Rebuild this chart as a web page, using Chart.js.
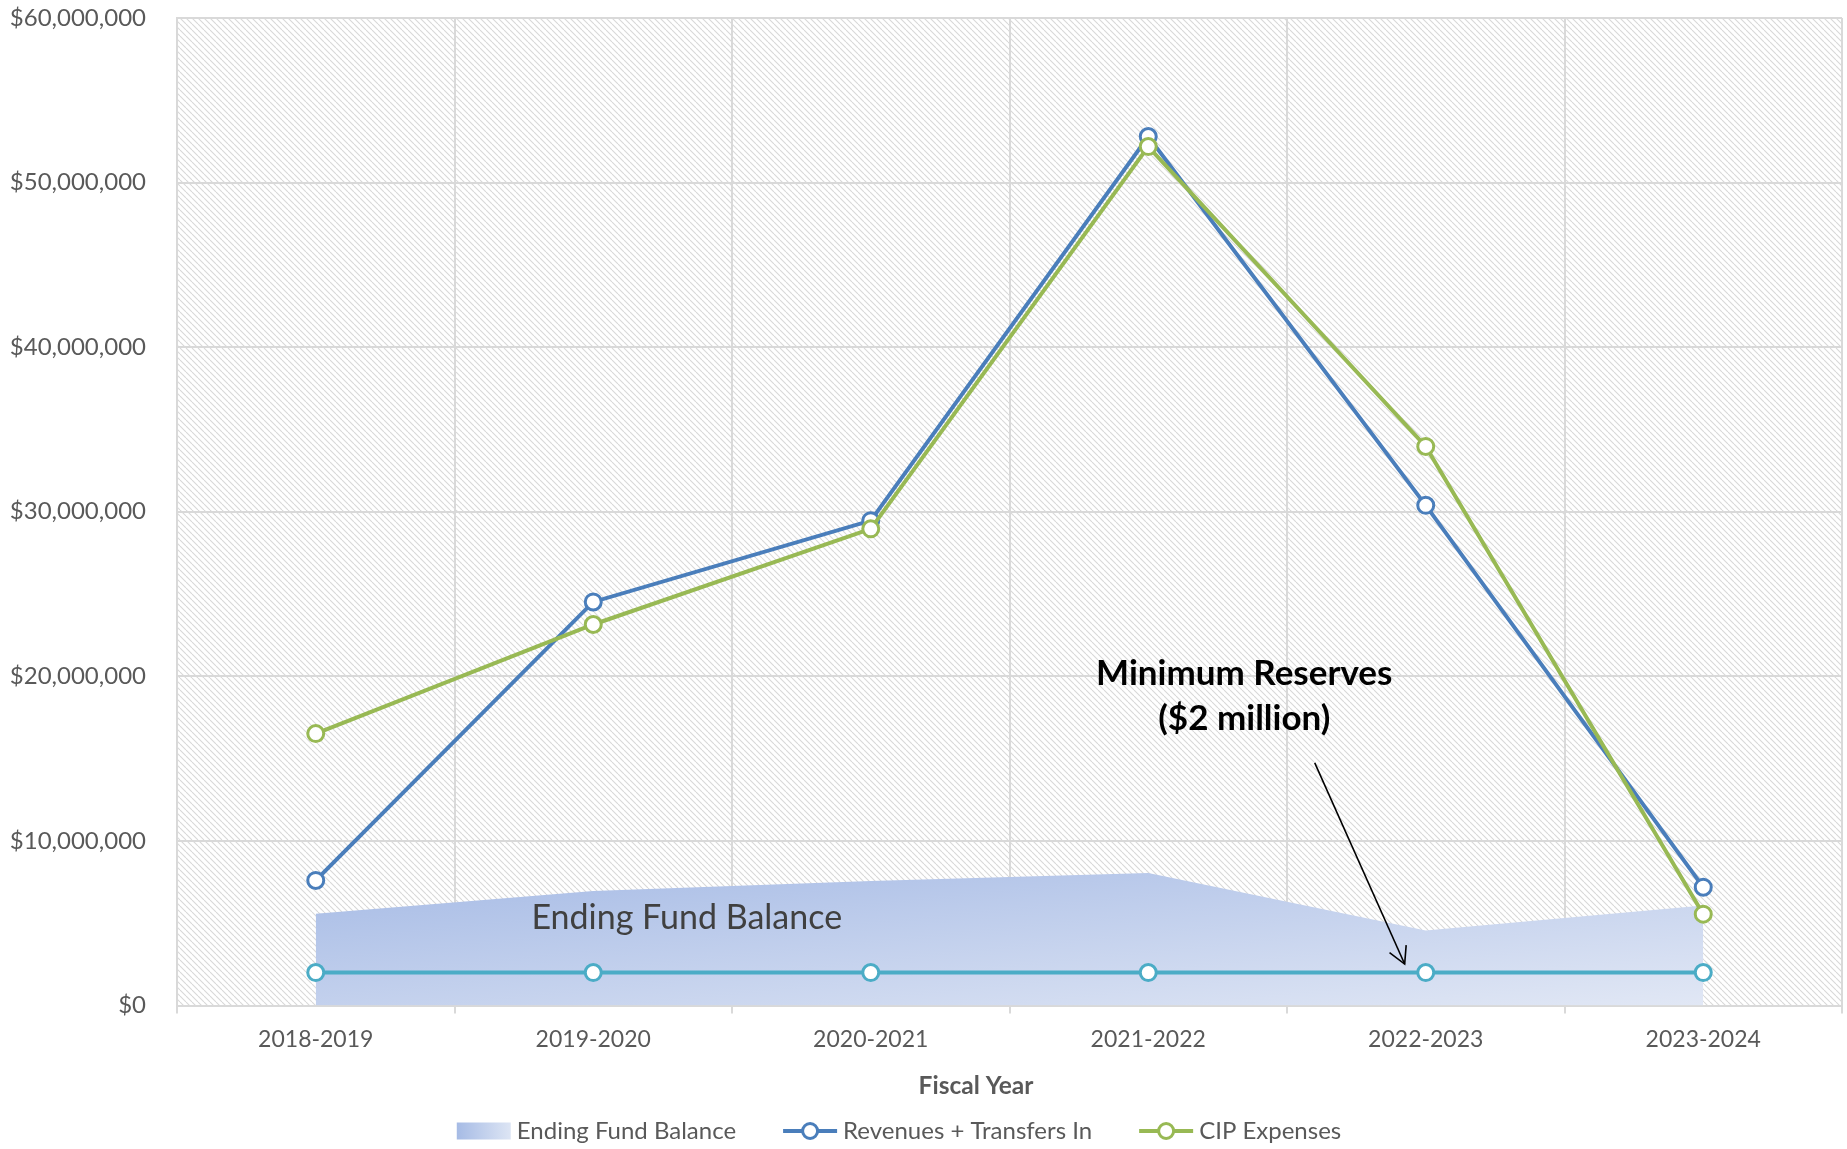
<!DOCTYPE html>
<html>
<head>
<meta charset="utf-8">
<script src="https://cdn.jsdelivr.net/npm/chart.js@4.4.1/dist/chart.umd.min.js"></script>
<style>
html,body{margin:0;padding:0;background:#fff;overflow:hidden}
#wrap{width:1847px;height:1149px;position:relative}
</style>
</head>
<body>
<div id="wrap"><canvas id="c" width="1847" height="1149"></canvas></div>
<script>
// ---------- data ----------
const categories = ['2018-2019', '2019-2020', '2020-2021', '2021-2022', '2022-2023', '2023-2024'];
const endingFundBalance = [5570000, 6950000, 7560000, 8050000, 4560000, 6080000];
const revenuesTransfersIn = [7600000, 24520000, 29460000, 52800000, 30390000, 7190000];
const cipExpenses = [16520000, 23150000, 28960000, 52190000, 33970000, 5550000];
const minimumReserves = [2000000, 2000000, 2000000, 2000000, 2000000, 2000000];
const yTickValues = [0, 10000000, 20000000, 30000000, 40000000, 50000000, 60000000];
const yTickLabels = ['$0', '$10,000,000', '$20,000,000', '$30,000,000', '$40,000,000', '$50,000,000', '$60,000,000'];
const seriesNames = ['Ending Fund Balance', 'Revenues + Transfers In', 'CIP Expenses', 'Minimum Reserves'];
const xAxisTitle = 'Fiscal Year';
const areaLabel = 'Ending Fund Balance';
const annotationLines = ['Minimum Reserves', '($2 million)'];

// ---------- styles ----------
const FONT = 'Lato, "Open Sans", sans-serif';
const BLUE = '#4a7ebb';
const GREEN = '#98b954';
const TEAL = '#4bacc6';
const GRID = '#d9d9d9';
const TEXT = '#595959';

const hatch = (() => {
  const c = document.createElement('canvas');
  c.width = 6; c.height = 6;
  const x = c.getContext('2d');
  x.fillStyle = '#ffffff';
  x.fillRect(0, 0, 6, 6);
  x.strokeStyle = '#d8d8d8';
  x.lineWidth = 1.1;
  for (const k of [-6, 0, 6]) {
    x.beginPath(); x.moveTo(k, 0); x.lineTo(k + 6, 6); x.stroke();
  }
  return c;
})();

function areaGradient(context) {
  const chart = context.chart;
  const {ctx, chartArea, scales} = chart;
  if (!chartArea) return '#b8c9ea';
  const sx = scales.x.getPixelForValue(0);
  const sy = scales.y.getPixelForValue(8500000);
  const h = scales.y.getPixelForValue(0) - sy;
  const g = ctx.createLinearGradient(sx, sy, sx + 0.2 * h, sy + 2 * h);
  g.addColorStop(0, '#a5bae5');
  g.addColorStop(1, '#e2e8f5');
  return g;
}

const backgroundPlugin = {
  id: 'hatchBackground',
  beforeDraw(chart) {
    const {ctx, chartArea: a} = chart;
    ctx.save();
    ctx.fillStyle = ctx.createPattern(hatch, 'repeat');
    ctx.fillRect(a.left, a.top, a.right - a.left, a.bottom - a.top);
    ctx.restore();
  }
};

const annotationPlugin = {
  id: 'annotations',
  afterDatasetsDraw(chart) {
    const {ctx, scales: {x, y}} = chart;
    ctx.save();
    // label inside area
    ctx.font = '34px ' + FONT;
    ctx.fillStyle = '#404040';
    ctx.textAlign = 'center';
    ctx.textBaseline = 'alphabetic';
    ctx.fillText(areaLabel, x.getPixelForValue(1.337), y.getPixelForValue(4650000));
    // minimum reserves note
    ctx.font = 'bold 35px ' + FONT;
    ctx.fillStyle = '#000000';
    const ax = x.getPixelForValue(3.346);
    ctx.fillText(annotationLines[0], ax, y.getPixelForValue(19490000));
    ctx.fillText(annotationLines[1], ax, y.getPixelForValue(16750000));
    // arrow
    const x1 = x.getPixelForValue(3.600), y1 = y.getPixelForValue(14740000);
    const x2 = x.getPixelForValue(3.924), y2 = y.getPixelForValue(2520000);
    ctx.strokeStyle = '#000000';
    ctx.lineWidth = 1.6;
    ctx.beginPath(); ctx.moveTo(x1, y1); ctx.lineTo(x2, y2); ctx.stroke();
    const ang = Math.atan2(y2 - y1, x2 - x1);
    const L = 19, spread = 0.5;
    ctx.beginPath();
    ctx.moveTo(x2 - L * Math.cos(ang - spread), y2 - L * Math.sin(ang - spread));
    ctx.lineTo(x2, y2);
    ctx.lineTo(x2 - L * Math.cos(ang + spread), y2 - L * Math.sin(ang + spread));
    ctx.stroke();
    ctx.restore();
  }
};

const legendPlugin = {
  id: 'customLegend',
  afterDraw(chart) {
    const {ctx} = chart;
    ctx.save();
    // axis title
    ctx.font = 'bold 24.5px ' + FONT;
    ctx.fillStyle = TEXT;
    ctx.textAlign = 'center';
    ctx.textBaseline = 'middle';
    ctx.fillText(xAxisTitle, 976, 1086);

    // legend
    ctx.font = '24px ' + FONT;
    const markerW = 54, gapText = 6, gapItem = 47, cy = 1131;
    const items = [0, 1, 2];
    const widths = items.map(i => markerW + gapText + ctx.measureText(seriesNames[i]).width);
    const total = widths.reduce((s, w) => s + w, 0) + gapItem * (items.length - 1);
    let xPos = 899 - total / 2;
    items.forEach((i, k) => {
      if (i === 0) {
        const g = ctx.createLinearGradient(xPos, 0, xPos + markerW, 0);
        g.addColorStop(0, '#a6bbe5');
        g.addColorStop(1, '#dde5f4');
        ctx.fillStyle = g;
        ctx.fillRect(xPos, cy - 8.5, markerW, 17);
      } else {
        const col = i === 1 ? BLUE : GREEN;
        ctx.strokeStyle = col;
        ctx.lineWidth = 4;
        ctx.beginPath(); ctx.moveTo(xPos, cy); ctx.lineTo(xPos + markerW, cy); ctx.stroke();
        ctx.fillStyle = '#ffffff';
        ctx.lineWidth = 3;
        ctx.beginPath(); ctx.arc(xPos + markerW / 2, cy, 7.5, 0, Math.PI * 2); ctx.fill(); ctx.stroke();
      }
      ctx.fillStyle = TEXT;
      ctx.textAlign = 'left';
      ctx.textBaseline = 'middle';
      ctx.fillText(seriesNames[i], xPos + markerW + gapText, cy);
      xPos += widths[k] + gapItem;
    });
    ctx.restore();
  }
};

const pointStyle = (color, bw) => ({
  borderColor: color,
  pointBorderColor: color,
  pointBackgroundColor: '#ffffff',
  pointRadius: 8,
  pointHoverRadius: 8,
  pointBorderWidth: 3,
  borderWidth: bw,
  tension: 0,
  fill: false
});

new Chart(document.getElementById('c'), {
  type: 'line',
  data: {
    labels: categories,
    datasets: [
      Object.assign({label: seriesNames[2], data: cipExpenses, order: 0}, pointStyle(GREEN, 4)),
      Object.assign({label: seriesNames[1], data: revenuesTransfersIn, order: 1}, pointStyle(BLUE, 4)),
      Object.assign({label: seriesNames[3], data: minimumReserves, order: 2}, pointStyle(TEAL, 4)),
      {
        label: seriesNames[0], data: endingFundBalance, order: 3,
        fill: 'origin', backgroundColor: areaGradient,
        borderWidth: 0, borderColor: 'rgba(0,0,0,0)', pointRadius: 0, tension: 0
      }
    ]
  },
  options: {
    responsive: false,
    devicePixelRatio: 1,
    animation: false,
    events: [],
    layout: {autoPadding: false, padding: {top: 18, right: 5, bottom: 0, left: 0}},
    plugins: {legend: {display: false}, tooltip: {enabled: false}, title: {display: false}},
    scales: {
      x: {
        offset: true,
        grid: {offset: true, color: GRID, lineWidth: 2, drawTicks: true, tickLength: 8, tickColor: GRID},
        border: {color: GRID, width: 2},
        ticks: {color: TEXT, font: {family: FONT, size: 23}, padding: 12, maxRotation: 0},
        afterFit(s) { s.height = 143.5; s.paddingLeft = 0; s.paddingRight = 0; }
      },
      y: {
        min: 0, max: 60000000,
        afterBuildTicks(s) { s.ticks = yTickValues.map(v => ({value: v})); },
        grid: {color: GRID, lineWidth: 2, drawTicks: false},
        border: {color: GRID, width: 2},
        ticks: {
          color: TEXT, font: {family: FONT, size: 24}, padding: 31,
          callback: v => yTickLabels[yTickValues.indexOf(v)]
        },
        afterFit(s) { s.width = 177; s.paddingTop = 0; s.paddingBottom = 0; }
      }
    }
  },
  plugins: [backgroundPlugin, annotationPlugin, legendPlugin]
});
</script>
</body>
</html>
